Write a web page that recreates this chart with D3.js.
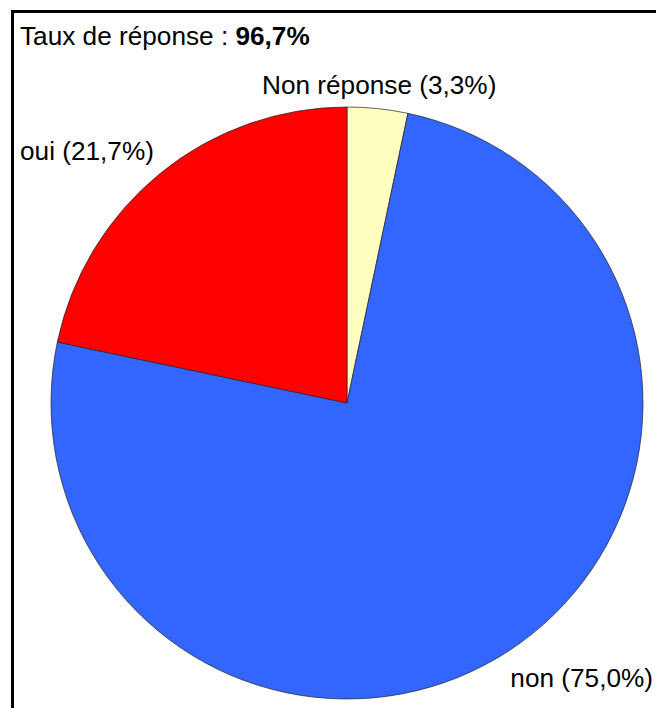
<!DOCTYPE html>
<html>
<head>
<meta charset="utf-8">
<script src="https://cdn.jsdelivr.net/npm/d3@7"></script>
<style>
  html, body { margin: 0; padding: 0; background: #fff; }
  svg { display: block; }
  text { font-family: "Liberation Sans", Arial, sans-serif; }
</style>
</head>
<body>
<div id="chart"></div>
<script>
// Survey answers, in drawing order clockwise from 12 o'clock
const categories = ["Non réponse", "non", "oui"];
const shares = [3.3, 75.0, 21.7];
const colors = ["#FFFFC0", "#3366FF", "#FF0000"];
const labelTexts = ["Non réponse (3,3%)", "non (75,0%)", "oui (21,7%)"];
const titleText = "Taux de réponse : ";
const titleValue = "96,7%";

const width = 656, height = 708;
const cx = 347, cy = 403, radius = 296;
const fontSize = 26.2;

const svg = d3.select("#chart").append("svg")
  .attr("width", width)
  .attr("height", height);

svg.append("rect").attr("width", width).attr("height", height).attr("fill", "#fff");

// Frame (open to the right and bottom)
svg.append("rect")
  .attr("x", 12.5).attr("y", 11.5)
  .attr("width", width + 20).attr("height", height + 20)
  .attr("fill", "none")
  .attr("stroke", "#000")
  .attr("stroke-width", 3);

const data = categories.map((c, i) => ({ name: c, value: shares[i], color: colors[i], label: labelTexts[i] }));

const pie = d3.pie().sort(null).value(d => d.value);
const arc = d3.arc().innerRadius(0).outerRadius(radius);
const arcs = pie(data);

const g = svg.append("g").attr("transform", `translate(${cx},${cy})`);
g.selectAll("path.slice")
  .data(arcs)
  .join("path")
  .attr("class", "slice")
  .attr("d", arc)
  .attr("fill", d => d.data.color)
  .attr("stroke", "#222")
  .attr("stroke-width", 0.7)
  .attr("stroke-linejoin", "round");

// Title
const title = svg.append("text")
  .attr("x", 20).attr("y", 45)
  .attr("font-size", fontSize)
  .attr("fill", "#000");
title.append("tspan").text(titleText);
title.append("tspan").attr("font-weight", "bold").text(titleValue);

// Slice labels
const labelPos = {
  "Non réponse": { x: 262, y: 94, anchor: "start" },
  "non": { x: 653, y: 687, anchor: "end" },
  "oui": { x: 20, y: 160, anchor: "start" }
};
svg.selectAll("text.lbl")
  .data(data)
  .join("text")
  .attr("class", "lbl")
  .attr("x", d => labelPos[d.name].x)
  .attr("y", d => labelPos[d.name].y)
  .attr("text-anchor", d => labelPos[d.name].anchor)
  .attr("font-size", fontSize)
  .attr("fill", "#000")
  .text(d => d.label);
</script>
</body>
</html>
